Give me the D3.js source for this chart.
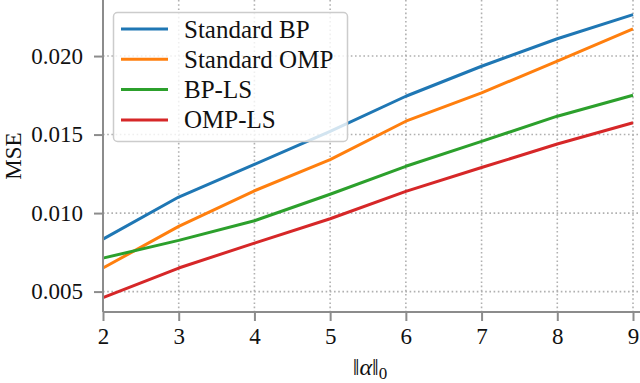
<!DOCTYPE html>
<html><head><meta charset="utf-8">
<script src="https://cdn.jsdelivr.net/npm/d3@7"></script>
<style>body{margin:0;background:#fff}svg{display:block}</style>
</head><body>
<svg id="c" width="640" height="383"></svg>
<script>
const xValues = [2,3,4,5,6,7,8,9];
const standardBP  = [0.00834,0.01102,0.01310,0.01520,0.01744,0.01935,0.02110,0.02264];
const standardOMP = [0.00650,0.00915,0.01142,0.01340,0.01585,0.01766,0.01967,0.02173];
const bpLS        = [0.00713,0.00826,0.00951,0.01120,0.01298,0.01457,0.01617,0.01750];
const ompLS       = [0.00462,0.00650,0.00809,0.00964,0.01138,0.01290,0.01440,0.01575];
const seriesNames = ["Standard BP","Standard OMP","BP-LS","OMP-LS"];
const seriesColors = ["#1f77b4","#ff7f0e","#2ca02c","#d62728"];
const yTicks = [0.005,0.010,0.015,0.020];
const xTicks = [2,3,4,5,6,7,8,9];

const series = [standardBP, standardOMP, bpLS, ompLS];
const svg = d3.select("#c");
const font = "Liberation Serif";
const L = 103, R = 633, T = 0, B = 312;
const x = d3.scaleLinear().domain([2,9]).range([L,R]);
const y = d3.scaleLinear().domain([0.00370,0.02357]).range([B,T]);

// grid
const grid = svg.append("g").attr("stroke","#b0b0b0").attr("stroke-width",1.6).attr("stroke-dasharray","1.6,2.6");
xTicks.forEach(t=>grid.append("line").attr("x1",x(t)).attr("x2",x(t)).attr("y1",T).attr("y2",B));
yTicks.forEach(t=>grid.append("line").attr("x1",L).attr("x2",R+7).attr("y1",y(t)).attr("y2",y(t)));

// lines
const line = d3.line().x((d,i)=>x(xValues[i])).y(d=>y(d));
series.forEach((s,i)=>{
  svg.append("path").datum(s).attr("d",line).attr("fill","none")
    .attr("stroke",seriesColors[i]).attr("stroke-width",3).attr("stroke-linejoin","round");
});

// axes
const xa = svg.append("g").attr("transform",`translate(0,${B})`)
  .call(d3.axisBottom(x).tickValues(xTicks).tickFormat(d3.format("d")).tickSize(9).tickPadding(7));
const ya = svg.append("g").attr("transform",`translate(${L},0)`)
  .call(d3.axisLeft(y).tickValues(yTicks).tickFormat(d3.format(".3f")).tickSize(9).tickPadding(11));
[xa,ya].forEach(a=>{
  a.attr("font-family",font).attr("font-size",23);
  a.selectAll("path.domain").attr("stroke","#8c8c8c").attr("stroke-width",2);
  a.selectAll(".tick line").attr("stroke","#8c8c8c").attr("stroke-width",2);
  a.selectAll("text").attr("fill","#111");
});
ya.select("path.domain").attr("d",`M0,${B}V${T}`);
xa.select("path.domain").attr("d",`M${L},0H${R+7}`);

// axis labels
svg.append("text").attr("transform",`translate(21,156) rotate(-90)`).attr("text-anchor","middle")
  .attr("font-family",font).attr("font-size",23).attr("fill","#111").text("MSE");
const xl = svg.append("text").attr("x",370).attr("y",375).attr("text-anchor","middle")
  .attr("font-family",font).attr("font-size",24).attr("fill","#111");
xl.append("tspan").text("‖");
xl.append("tspan").attr("font-style","italic").text("α");
xl.append("tspan").text("‖");
xl.append("tspan").attr("font-size",17).attr("dy",4).text("0");

// legend
const lg = svg.append("g");
lg.append("rect").attr("x",113.5).attr("y",12.5).attr("width",234).attr("height",129).attr("rx",4)
  .attr("fill","rgba(255,255,255,0.8)").attr("stroke","#cccccc").attr("stroke-width",1.5);
seriesNames.forEach((n,i)=>{
  const yy = 29 + i*30.3;
  lg.append("line").attr("x1",121).attr("x2",168).attr("y1",yy).attr("y2",yy)
    .attr("stroke",seriesColors[i]).attr("stroke-width",3);
  lg.append("text").attr("x",184).attr("y",yy+8.5).attr("font-family",font).attr("font-size",25)
    .attr("fill","#111").text(n);
});
</script>
</body></html>
